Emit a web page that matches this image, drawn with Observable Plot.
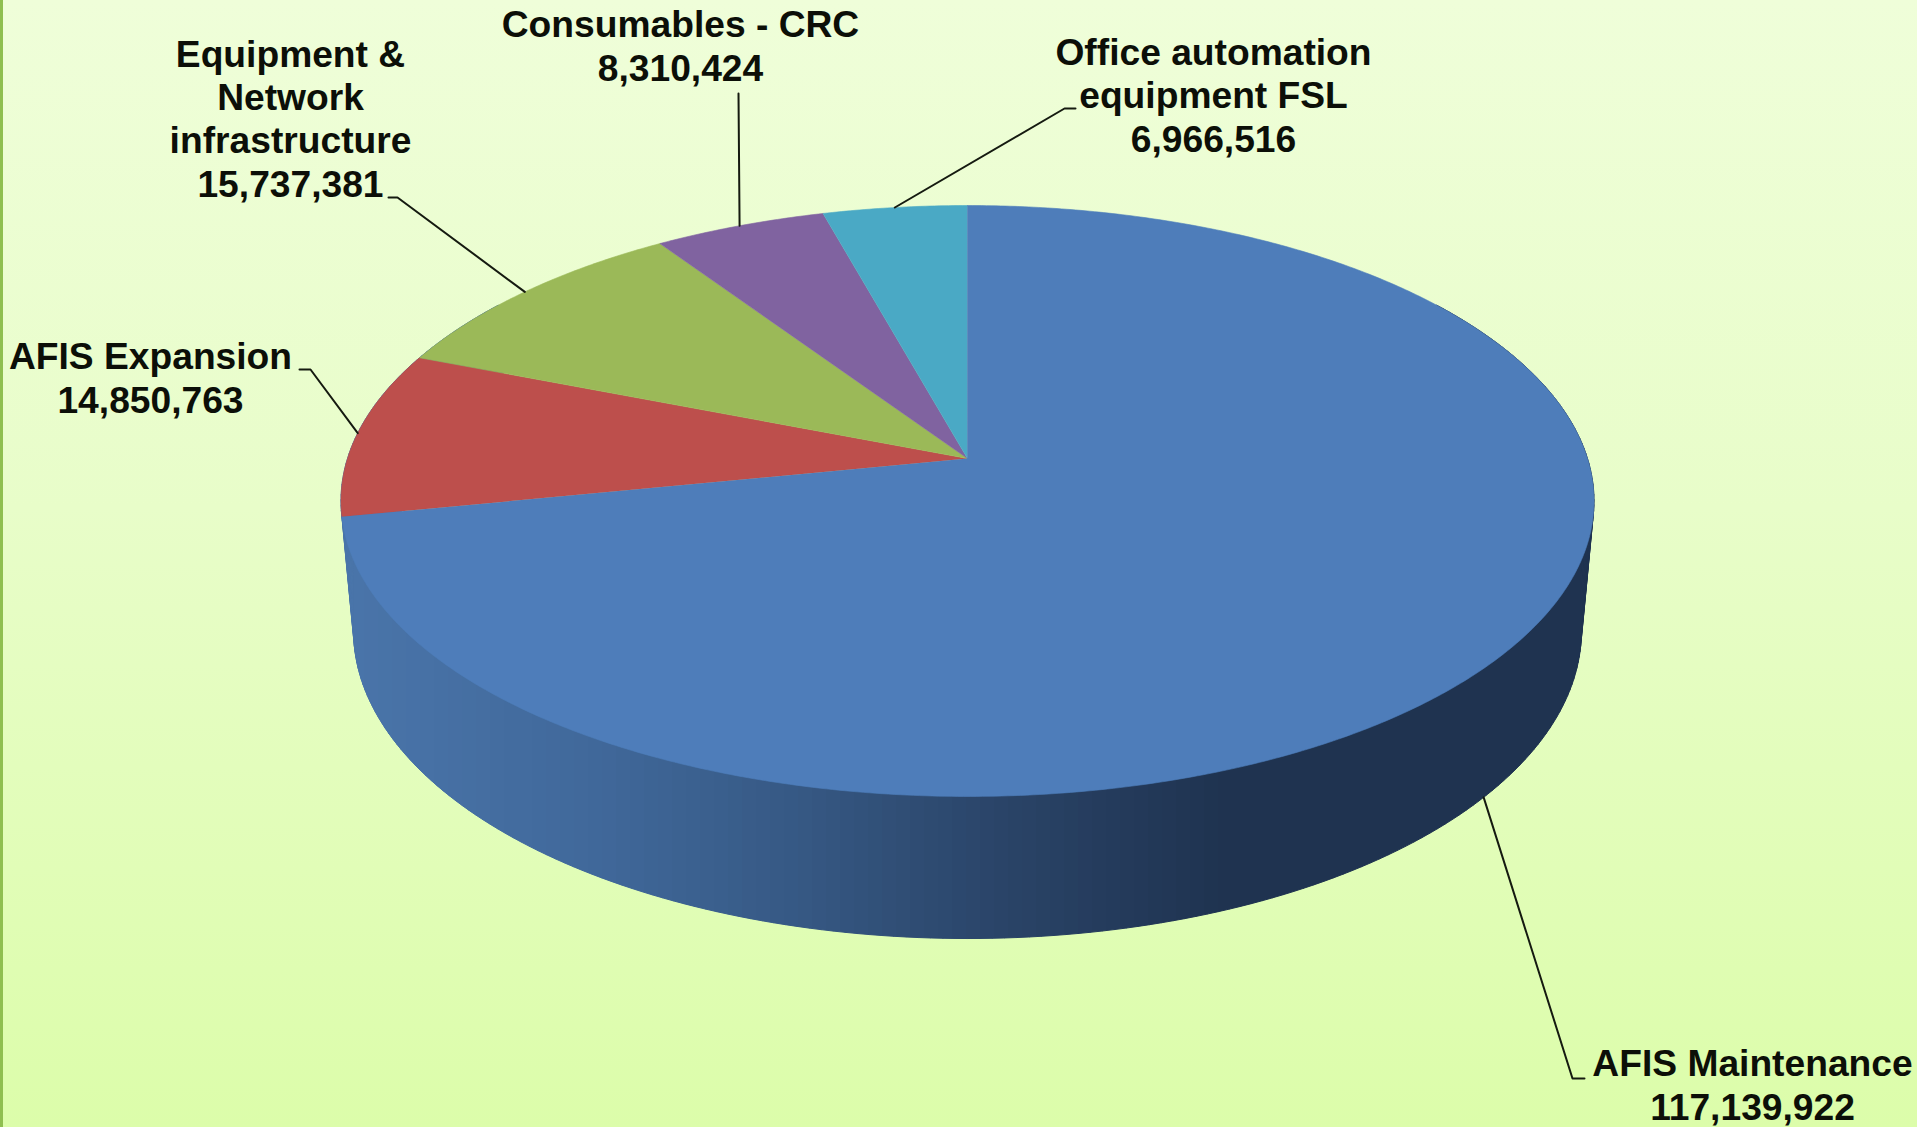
<!DOCTYPE html>
<html>
<head>
<meta charset="utf-8">
<script src="https://cdn.jsdelivr.net/npm/d3@7"></script>
<script src="https://cdn.jsdelivr.net/npm/@observablehq/plot@0.6"></script>
<style>
  html, body { margin: 0; padding: 0; }
  body {
    width: 1917px; height: 1127px; overflow: hidden;
    background:
      linear-gradient(90deg, #8fbf50 0, #8fbf50 3px, transparent 3px),
      linear-gradient(180deg, #effed9 0%, #e8fdc9 45%, #dcfdaa 100%);
  }
  svg { display: block; background: transparent !important; }
</style>
</head>
<body>
<script>
// ---- Data ----
const categories = ["AFIS Maintenance", "AFIS Expansion", "Equipment & Network infrastructure", "Consumables - CRC", "Office automation equipment FSL"];
const values = [117139922, 14850763, 15737381, 8310424, 6966516];
const labelLines = [
  ["AFIS Maintenance"],
  ["AFIS Expansion"],
  ["Equipment &", "Network", "infrastructure"],
  ["Consumables - CRC"],
  ["Office automation", "equipment FSL"]
];

// ---- Styling and layout, kept apart from the data ----
const sliceColors = ["#4e7dba", "#bd4f4c", "#9bb958", "#8063a0", "#4aa9c5"];
const labelX = [1752, 150, 290, 680, 1213];        // centre of each label block
const labelLastBaseline = [1119, 412, 196, 80, 151];
const leaderFrom = [[1584, 1078], [299, 369], [388, 197], [738, 93], [1075, 108]];
const leaderElbow = [[1572, 1078], [310, 369], [397, 197], [738, 93], [1064, 108]];
const leaderOnBottomRim = [true, false, false, false, false];
const sideShadeStops = [340, 600, 780, 1000, 1220];
const sideShadeColors = ["#4a75aa", "#40689a", "#375a86", "#2a4468", "#1f3350"];
const shadeBand = 14;

// Perspective view of the disc: camera parameters fitted to the picture.
const view = {cx: 967, cy: 458, a: 620, b: 223.5, k: -0.1438, m: 0.02, d: 140.4};
function project(theta, h = 0, r = 1) {
  const u = r * Math.sin(theta), v = -r * Math.cos(theta);
  const w = 1 + view.k * v + view.m * h;
  return {x: view.cx + view.a * u / w, y: (view.b * v + view.cy + view.d * h) / w};
}

// ---- Angles from the values ----
const total = d3.sum(values);
const cumulative = d3.cumsum(values);
const startAngle = values.map((v, i) => ((cumulative[i] - v) / total) * 2 * Math.PI);
const endAngle = values.map((v, i) => (cumulative[i] / total) * 2 * Math.PI);
const midAngle = values.map((v, i) => (startAngle[i] + endAngle[i]) / 2);

const deg = Math.PI / 180;
function slicePath(i) {
  const pts = [project(0, 0, 0)];
  const n = Math.ceil((endAngle[i] - startAngle[i]) / (0.5 * deg));
  for (let j = 0; j <= n; j++) pts.push(project(startAngle[i] + (endAngle[i] - startAngle[i]) * j / n));
  return pts;
}

// Full wall silhouette under the shading: side faces at both ends get the end shades
const wall = [];
for (let t = 55; t < 305; t += 1) {
  const a = t * deg, b = (t + 1) * deg;
  const p = [project(a), project(b), project(b, 1), project(a, 1)];
  const shade = (p[0].x + p[3].x) / 2;
  p.forEach(q => wall.push({id: t, x: q.x, y: q.y, shade}));
}

// Front half of a rim as y(x), for vertical shading bands
function frontRim(h) {
  const pts = d3.range(0, 360, 0.1).map(t => project(t * deg, h));
  const iMax = d3.maxIndex(pts, p => p.x), iMin = d3.minIndex(pts, p => p.x);
  const front = pts.slice(iMax, iMin + 1).reverse();
  const at = x => {
    const j = Math.max(1, Math.min(front.length - 1, d3.bisector(p => p.x).left(front, x)));
    const a = front[j - 1], b = front[j];
    return a.y + (b.y - a.y) * (x - a.x) / ((b.x - a.x) || 1);
  };
  return {at, x0: front[0].x, x1: front[front.length - 1].x};
}
const topRim = frontRim(0), bottomRim = frontRim(1);
const bands = [];
{
  const first = Math.floor(bottomRim.x0 / shadeBand) * shadeBand;
  for (let k = first; k < bottomRim.x1; k += shadeBand) {
    const from = Math.max(k, bottomRim.x0), to = Math.min(k + shadeBand, bottomRim.x1);
    for (let x = from; ; x = Math.min(x + 1, to)) {
      bands.push({x, y1: topRim.at(x) - 6, y2: bottomRim.at(x), shade: k + shadeBand / 2});
      if (x >= to) break;
    }
  }
}

const leaders = values.flatMap((v, i) => {
  const rim = project(midAngle[i], leaderOnBottomRim[i] ? 1 : 0);
  return [
    {id: i, x: leaderFrom[i][0], y: leaderFrom[i][1]},
    {id: i, x: leaderElbow[i][0], y: leaderElbow[i][1]},
    {id: i, x: rim.x, y: rim.y}
  ];
});

const labels = categories.map((c, i) => ({
  text: [...labelLines[i], d3.format(",")(values[i])].join("\n"),
  x: labelX[i],
  y: labelLastBaseline[i]
}));

const drawOrder = [1, 2, 3, 4, 0];

const chart = Plot.plot({
  width: 1917,
  height: 1127,
  margin: 0,
  x: {domain: [0, 1917], range: [0, 1917], axis: null},
  y: {domain: [0, 1127], range: [0, 1127], axis: null},
  color: {type: "linear", domain: sideShadeStops, range: sideShadeColors, clamp: true, legend: false},
  marks: [
    Plot.line(wall, {x: "x", y: "y", z: "id", fill: "shade", stroke: "shade", strokeWidth: 1}),
    Plot.areaY(bands, {x: "x", y1: "y1", y2: "y2", z: "shade", fill: "shade"}),
    ...drawOrder.map(i => Plot.line(slicePath(i), {x: "x", y: "y", fill: sliceColors[i], stroke: sliceColors[i], strokeWidth: 0.6})),
    Plot.line(leaders, {x: "x", y: "y", z: "id", stroke: "#151a10", strokeWidth: 2, fill: "none"}),
    Plot.text(labels, {
      x: "x", y: "y", text: "text",
      lineAnchor: "bottom", textAnchor: "middle",
      lineHeight: 1.164,
      fontFamily: "Liberation Sans, Arial, sans-serif",
      fontWeight: "bold", fontSize: 37.2, fill: "#0c0f08"
    })
  ]
});
document.body.appendChild(chart);
</script>
</body>
</html>
